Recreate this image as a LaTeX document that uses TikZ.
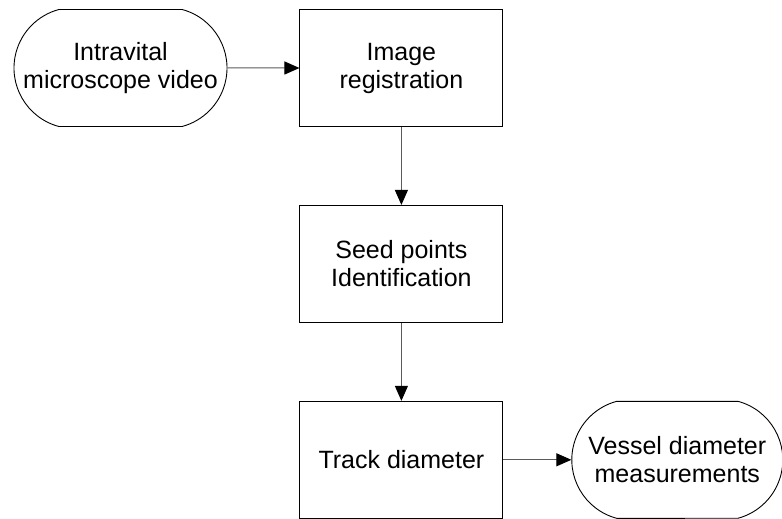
\documentclass[tikz,border=0pt]{standalone}
\usepackage{fontspec}
\setmainfont{Liberation Sans}
\usetikzlibrary{positioning, shapes.misc, arrows.meta}
\definecolor{linegray}{RGB}{90, 90, 90}

\begin{document}
\begin{tikzpicture}[
    x=1pt, y=1pt,
    node distance=78pt and 72pt,
    process/.style={rectangle, draw=black, line width=0.9pt, inner sep=0pt, align=center, font=\fontsize{25}{28}\selectfont, minimum width=203pt, minimum height=117pt},
    terminal/.style={rounded rectangle, rounded rectangle arc length=150, draw=black, line width=0.9pt, inner sep=0pt, align=center, font=\fontsize{25}{28}\selectfont, minimum width=213pt, minimum height=117pt},
    arrow/.style={-{Triangle[length=15pt, width=13pt, color=black]}, draw=linegray, line width=1pt}
]
\useasboundingbox (0,0) rectangle (782,-519);

\node[terminal] (video) at (120.5,-68) {Intravital\\microscope video};
\node[process, right=72pt of video] (reg) {Image\\registration};
\node[process, below=of reg] (seed) {Seed points\\Identification};
\node[process, below=of seed] (track) {Track diameter};
\node[terminal, right=68pt of track, minimum width=211pt] (meas) {Vessel diameter\\measurements};

\draw[arrow] (video) -- (reg);
\draw[arrow] (reg) -- (seed);
\draw[arrow] (seed) -- (track);
\draw[arrow] (track) -- (meas);

\end{tikzpicture}
\end{document}
